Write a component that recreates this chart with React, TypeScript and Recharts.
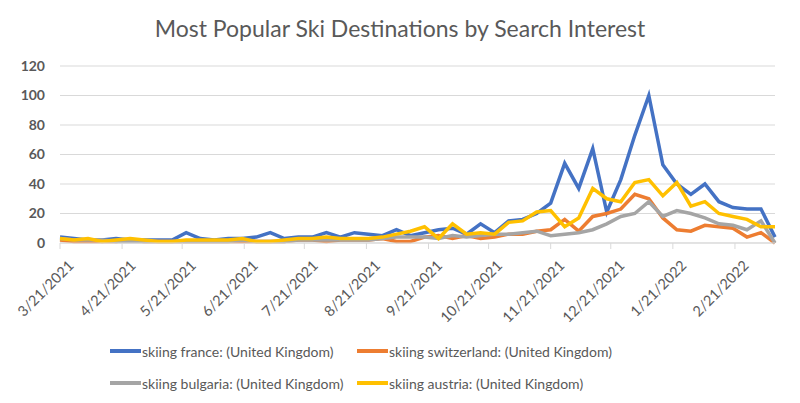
import React from 'react';
import { LineChart, Line, XAxis, YAxis, CartesianGrid, Legend } from 'recharts';

// weekly search interest, first week starts 3/21/2021
const firstWeek = '3/21/2021';
const tickLabels = [
  '3/21/2021', '4/21/2021', '5/21/2021', '6/21/2021', '7/21/2021', '8/21/2021',
  '9/21/2021', '10/21/2021', '11/21/2021', '12/21/2021', '1/21/2022', '2/21/2022',
];
const yTicks = [0, 20, 40, 60, 80, 100, 120];

const france = [
  4, 3, 2, 2, 3, 2, 2, 2, 2, 7, 3, 2, 3, 3, 4, 7, 3, 4, 4, 7, 4, 7, 6, 5, 9, 5,
  7, 9, 10, 6, 13, 7, 15, 16, 20, 27, 54, 37, 64, 21, 43, 73, 100, 53, 40, 33, 40, 28, 24, 23, 23, 4,
];
const switzerland = [
  2, 1, 1, 1, 1, 2, 1, 1, 1, 1, 1, 1, 1, 1, 1, 1, 1, 2, 2, 1, 2, 2, 2, 3, 1, 1,
  4, 5, 3, 5, 3, 4, 6, 6, 8, 9, 16, 8, 18, 20, 23, 33, 30, 17, 9, 8, 12, 11, 10, 4, 7, 0,
];
const bulgaria = [
  3, 2, 2, 2, 1, 1, 1, 1, 1, 1, 1, 1, 1, 2, 1, 1, 1, 2, 2, 2, 2, 2, 2, 3, 4, 4,
  4, 3, 5, 4, 5, 6, 6, 7, 8, 5, 6, 7, 9, 13, 18, 20, 28, 18, 22, 20, 17, 13, 12, 9, 15, 0,
];
const austria = [
  3, 2, 3, 1, 2, 3, 2, 1, 1, 2, 2, 2, 2, 3, 1, 1, 2, 3, 3, 4, 3, 3, 3, 4, 6, 8,
  11, 3, 13, 6, 7, 6, 14, 15, 21, 22, 11, 17, 37, 30, 28, 41, 43, 32, 41, 25, 28, 20, 18, 16, 11, 11,
];

const series = [
  { key: 'france', name: 'skiing france: (United Kingdom)', color: '#4472C4' },
  { key: 'switzerland', name: 'skiing switzerland: (United Kingdom)', color: '#ED7D31' },
  { key: 'bulgaria', name: 'skiing bulgaria: (United Kingdom)', color: '#A5A5A5' },
  { key: 'austria', name: 'skiing austria: (United Kingdom)', color: '#FFC000' },
];

const DAY_MS = 86400000;
const parseDate = (s: string) => {
  const [m, d, y] = s.split('/').map(Number);
  return Date.UTC(y, m - 1, d);
};
const dayOf = (s: string) => Math.round((parseDate(s) - parseDate(firstWeek)) / DAY_MS);

const tickDays = tickLabels.map(dayOf);
const labelByDay: Record<number, string> = {};
tickLabels.forEach((l, i) => (labelByDay[tickDays[i]] = l));

const data = france.map((v, i) => ({
  day: i * 7,
  france: v,
  switzerland: switzerland[i],
  bulgaria: bulgaria[i],
  austria: austria[i],
}));

const FONT = 'Lato, "Open Sans", sans-serif';
const TEXT = '#595959';

const DateTick = (props: any) => {
  const { x, y, payload } = props;
  return (
    <g transform={`translate(${x + 9},${y + 10})`}>
      <text x={0} y={0} dy={8} textAnchor="end" fill={TEXT} fontSize={14.5} fontFamily={FONT} transform="rotate(-45)">
        {labelByDay[payload.value]}
      </text>
    </g>
  );
};

const renderLegend = () => (
  <div
    style={{
      height: 72,
      width: 800,
      boxSizing: 'border-box',
      paddingTop: 18,
      paddingLeft: 110,
      display: 'grid',
      gridTemplateColumns: '247px 340px',
      rowGap: 10,
      fontFamily: FONT,
      fontSize: 14,
      color: TEXT,
      whiteSpace: 'nowrap',
    }}
  >
    {series.map((s) => (
      <div key={s.key} style={{ display: 'flex', alignItems: 'center', height: 20 }}>
        <span style={{ display: 'inline-block', width: 31, height: 4, background: s.color, marginRight: 1 }} />
        <span>{s.name}</span>
      </div>
    ))}
  </div>
);

export default function App() {
  return (
    <div style={{ position: 'absolute', left: 0, top: 0, width: 800, height: 403, background: '#fff' }}>
      <div
        style={{
          position: 'absolute',
          top: 12,
          left: 0,
          width: 800,
          height: 32,
          lineHeight: '32px',
          textAlign: 'center',
          fontFamily: FONT,
          fontSize: 23,
          color: TEXT,
        }}
      >
        Most Popular Ski Destinations by Search Interest
      </div>
      <LineChart width={800} height={403} data={data} margin={{ top: 66, right: 25, left: 0, bottom: 8 }}>
        <CartesianGrid vertical={false} stroke="#d9d9d9" />
        <XAxis
          dataKey="day"
          type="number"
          domain={['dataMin', 'dataMax']}
          ticks={tickDays}
          interval={0}
          height={80}
          stroke="#d9d9d9"
          tickSize={6}
          tick={<DateTick />}
        />
        <YAxis
          domain={[0, 120]}
          ticks={yTicks}
          width={60}
          axisLine={false}
          tickLine={false}
          tickMargin={9}
          tick={{ fill: TEXT, fontSize: 14, fontWeight: 700, fontFamily: FONT }}
        />
        <Legend verticalAlign="bottom" align="left" content={renderLegend} wrapperStyle={{ left: 0 }} />
        {series.map((s) => (
          <Line
            key={s.key}
            dataKey={s.key}
            name={s.name}
            stroke={s.color}
            strokeWidth={3.5}
            dot={false}
            type="linear"
            isAnimationActive={false}
          />
        ))}
      </LineChart>
    </div>
  );
}
